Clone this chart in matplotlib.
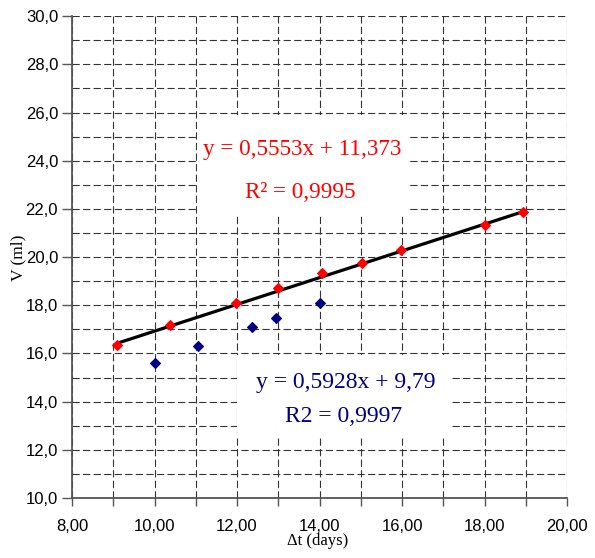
import matplotlib
matplotlib.use("Agg")
import matplotlib.pyplot as plt
from matplotlib.patches import Rectangle
from matplotlib.ticker import MultipleLocator, FuncFormatter

# Data
red_x = [9.09, 10.38, 11.98, 13.0, 14.05, 15.03, 15.97, 18.0, 18.94]
red_y = [16.35, 17.18, 18.08, 18.71, 19.32, 19.75, 20.29, 21.33, 21.87]
blue_x = [10.0, 11.06, 12.36, 12.95, 14.02]
blue_y = [15.6, 16.32, 17.08, 17.46, 18.08]
red_slope, red_intercept = 0.5553, 11.373

red_eq = "y = 0,5553x + 11,373"
red_r2 = "R² = 0,9995"
blue_eq = "y = 0,5928x + 9,79"
blue_r2 = "R2 = 0,9997"
xlabel = "Δt (days)"
ylabel = "V (ml)"

fig = plt.figure(figsize=(5.95, 5.58), dpi=100)
ax = fig.add_axes([0.121, 0.1075, 0.832, 0.8635])

ax.set_xlim(8, 20)
ax.set_ylim(10, 30)

ax.xaxis.set_major_locator(MultipleLocator(2))
ax.xaxis.set_minor_locator(MultipleLocator(1))
ax.yaxis.set_major_locator(MultipleLocator(2))
ax.yaxis.set_minor_locator(MultipleLocator(1))
ax.xaxis.set_major_formatter(FuncFormatter(lambda v, p: f"{v:.2f}".replace(".", ",")))
ax.yaxis.set_major_formatter(FuncFormatter(lambda v, p: f"{v:.1f}".replace(".", ",")))

ax.tick_params(axis="x", which="major", direction="out", length=6, width=1, color="#555555",
               pad=9, labelsize=12)
ax.tick_params(axis="x", which="minor", direction="out", length=6, width=1, color="#555555")
ax.tick_params(axis="y", which="major", direction="out", length=7, width=1, color="#555555",
               pad=3, labelsize=12)
ax.tick_params(axis="y", which="minor", length=0)
for lab in ax.get_xticklabels() + ax.get_yticklabels():
    lab.set_fontfamily("Liberation Sans")

ax.grid(True, which="both", color="#333333", linewidth=0.8, linestyle=(0, (6.5, 3.0)))
ax.set_axisbelow(True)

for s in ["top", "right"]:
    ax.spines[s].set_visible(False)
for s in ["left", "bottom"]:
    ax.spines[s].set_color("#555555")
    ax.spines[s].set_linewidth(1.3)
    ax.spines[s].set_zorder(3)

# White boxes behind the equation texts
ax.add_patch(Rectangle((0.2525, 0.587), 0.4305, 0.208, transform=ax.transAxes,
                       facecolor="white", edgecolor="none", zorder=1.5))
ax.add_patch(Rectangle((0.333, 0.127), 0.431, 0.170, transform=ax.transAxes,
                       facecolor="white", edgecolor="none", zorder=1.5))

# Trend line for red series
tx = [min(red_x), max(red_x)]
ty = [red_slope * v + red_intercept for v in tx]
ax.plot(tx, ty, color="black", linewidth=2.3, zorder=4, solid_capstyle="butt")

ax.plot(red_x, red_y, linestyle="none", marker="D", markersize=5.5, color="#FF0000",
        markeredgecolor="#FF0000", markeredgewidth=0.8, zorder=5)
ax.plot(blue_x, blue_y, linestyle="none", marker="D", markersize=5.5, color="#000080",
        markeredgecolor="#000080", markeredgewidth=0.8, zorder=5)

serif = "Liberation Serif"
ax.text(0.465, 0.712, red_eq, transform=ax.transAxes, ha="center", va="baseline",
        color="#FF0000", fontsize=16.7, family=serif, zorder=6)
ax.text(0.461, 0.622, red_r2, transform=ax.transAxes, ha="center", va="baseline",
        color="#FF0000", fontsize=16.7, family=serif, zorder=6)
ax.text(0.552, 0.228, blue_eq, transform=ax.transAxes, ha="center", va="baseline",
        color="#000080", fontsize=17, family=serif, zorder=6)
ax.text(0.548, 0.158, blue_r2, transform=ax.transAxes, ha="center", va="baseline",
        color="#000080", fontsize=17, family=serif, zorder=6)

fig.text(318 / 595, 1 - 541 / 558, xlabel, ha="center", va="center", fontsize=12,
         family=serif)
fig.text(18 / 595, 1 - 258 / 558, ylabel, ha="center", va="center", fontsize=12.5,
         family=serif, rotation=90)

fig.savefig("out.png", dpi=100)
